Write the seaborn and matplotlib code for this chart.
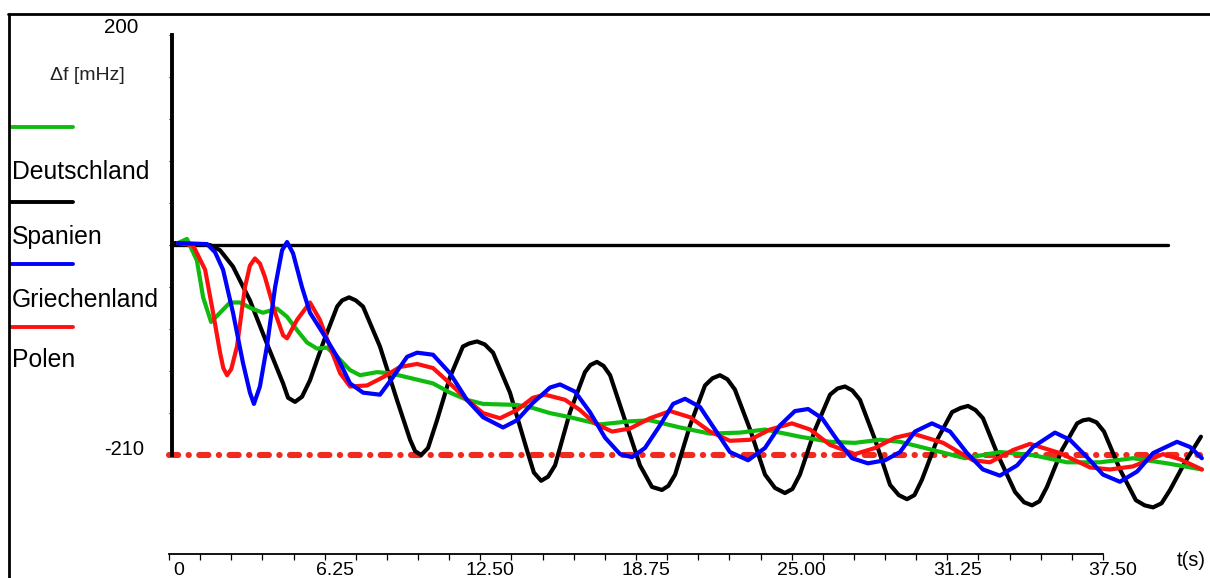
import numpy as np
import pandas as pd
import matplotlib
matplotlib.use("Agg")
import matplotlib.pyplot as plt
from matplotlib.lines import Line2D
from matplotlib.transforms import ScaledTranslation
import seaborn as sns

# frequency deviation [mHz] over time [s]
t_es = [0.24, 1.65, 2.05, 2.57, 3.25, 3.93, 4.58, 4.78, 5.06, 5.34, 5.66, 6.18, 6.75, 6.95,
        7.23, 7.50, 7.79, 8.47, 9.15, 9.68, 9.88, 10.12, 10.40, 10.76, 11.28, 11.80, 12.05,
        12.37, 12.68, 13.01, 13.69, 14.37, 14.65, 14.94, 15.22, 15.50, 16.10, 16.70, 16.92,
        17.18, 17.45, 17.71, 18.31, 18.91, 19.39, 19.79, 20.05, 20.32, 20.92, 21.52, 21.82,
        22.12, 22.42, 22.72, 23.33, 23.93, 24.33, 24.73, 25.03, 25.33, 25.94, 26.54, 26.84,
        27.14, 27.44, 27.74, 28.35, 28.95, 29.30, 29.63, 29.93, 30.23, 30.84, 31.44, 31.78,
        32.08, 32.38, 32.68, 33.28, 33.97, 34.33, 34.65, 34.95, 35.25, 35.85, 36.46, 36.70,
        36.94, 37.24, 37.54, 38.18, 38.82, 39.17, 39.51, 39.85, 40.19, 40.79, 41.43]
v_es = [-3, -5, -10, -26, -59, -101, -140, -154, -158, -153, -137, -101, -65, -59,
        -56, -59, -65, -104, -156, -195, -206, -210, -203, -176, -134, -104, -101,
        -99, -102, -110, -149, -205, -227, -235, -231, -220, -168, -129, -122,
        -119, -123, -132, -176, -220, -241, -244, -240, -229, -181, -142, -135,
        -132, -136, -146, -185, -229, -242, -247, -243, -229, -185, -151, -145,
        -143, -147, -156, -195, -239, -249, -253, -249, -234, -195, -168, -164,
        -162, -166, -174, -210, -246, -256, -259, -255, -241, -205, -179, -176,
        -175, -178, -187, -224, -254, -259, -261, -257, -244, -217, -192]

t_gr = [0.36, 1.53, 1.85, 2.17, 2.57, 2.97, 3.25, 3.41, 3.65, 3.93, 4.26, 4.54, 4.74, 4.98,
        5.34, 5.66, 6.18, 6.75, 7.27, 7.79, 8.47, 8.99, 9.56, 9.96, 10.60, 11.28, 11.96,
        12.61, 13.41, 13.97, 14.61, 15.30, 15.70, 16.30, 16.90, 17.51, 18.11, 18.59, 19.11,
        19.71, 20.24, 20.72, 21.32, 21.92, 22.52, 23.25, 23.93, 24.53, 25.13, 25.66, 26.22,
        26.82, 27.42, 28.06, 28.75, 29.35, 29.95, 30.63, 31.36, 32.04, 32.68, 33.36, 34.05,
        34.69, 35.57, 36.17, 36.86, 37.50, 38.18, 38.87, 39.51, 40.47, 40.99, 41.47]
v_gr = [-3, -4, -12, -29, -71, -120, -149, -160, -143, -104, -46, -10, -2, -13,
        -46, -71, -91, -114, -140, -149, -151, -134, -114, -110, -112, -130, -156,
        -173, -183, -176, -159, -144, -141, -148, -168, -193, -209, -212, -203,
        -181, -160, -155, -163, -185, -207, -215, -203, -181, -167, -165, -174,
        -195, -213, -218, -215, -207, -187, -179, -187, -208, -224, -230, -220,
        -202, -188, -195, -212, -229, -236, -226, -208, -197, -202, -213]

t_pl = [0.36, 0.96, 1.45, 1.77, 2.05, 2.18, 2.33, 2.50, 2.73, 3.05, 3.25, 3.45, 3.65, 3.85,
        4.26, 4.58, 4.74, 5.14, 5.66, 6.06, 6.46, 6.87, 7.27, 7.95, 8.59, 9.27, 9.96, 10.60,
        11.28, 11.96, 12.61, 13.29, 13.97, 14.61, 15.10, 15.90, 16.50, 17.10, 17.79, 18.51,
        19.31, 20.12, 20.92, 21.72, 22.52, 23.33, 24.13, 25.01, 25.74, 26.54, 27.54, 28.35,
        29.15, 29.87, 31.08, 32.28, 32.96, 33.89, 34.57, 35.77, 36.98, 37.78, 38.70, 39.91,
        40.59, 41.47]
v_pl = [-3, -5, -29, -71, -110, -125, -132, -126, -104, -46, -25, -18, -23, -36,
        -71, -93, -96, -78, -61, -78, -104, -130, -143, -142, -134, -124, -121, -125,
        -140, -156, -169, -174, -166, -154, -151, -156, -166, -179, -187, -184,
        -174, -167, -173, -187, -196, -195, -185, -179, -185, -200, -209, -203,
        -193, -189, -198, -215, -217, -205, -199, -208, -222, -224, -221, -209,
        -214, -224]

t_de = [0.36, 0.72, 1.12, 1.37, 1.69, 2.05, 2.45, 2.85, 3.33, 3.77, 4.34, 4.74, 5.14, 5.54,
        5.94, 6.34, 6.75, 7.27, 7.67, 8.35, 8.87, 9.56, 10.60, 11.28, 11.96, 12.61, 13.97,
        14.61, 15.30, 16.10, 17.30, 18.51, 19.31, 20.52, 21.72, 22.93, 23.93, 25.33, 26.54,
        27.54, 28.55, 29.35, 30.67, 31.96, 33.36, 34.69, 36.05, 37.38, 38.70, 40.07, 41.47]
v_de = [-3, 1, -20, -56, -80, -71, -61, -61, -67, -71, -67, -75, -88, -100,
        -106, -105, -114, -127, -132, -129, -130, -134, -140, -149, -156, -160, -161,
        -164, -169, -173, -180, -177, -176, -183, -189, -188, -185, -192, -197,
        -198, -195, -197, -205, -213, -207, -210, -217, -217, -213, -218, -224]

base_level = -5
base_span = (0.1, 40.1)
limit_level = -210
limit_span = (0.0, 41.4)

countries = ["Spanien", "Deutschland", "Polen", "Griechenland"]
colors = {"Deutschland": "#10bb10", "Spanien": "black",
          "Griechenland": "#0000ff", "Polen": "#ff1010"}

x_major = np.arange(0, 37.51, 6.25)
x_labels = ["0", "6.25", "12.50", "18.75", "25.00", "31.25", "37.50"]
x_minor = np.arange(0, 37.51, 1.25)
y_ticks = np.arange(-210, 201, 41)

df = pd.concat([
    pd.DataFrame({"t": t_es, "df": v_es, "land": "Spanien"}),
    pd.DataFrame({"t": t_de, "df": v_de, "land": "Deutschland"}),
    pd.DataFrame({"t": t_pl, "df": v_pl, "land": "Polen"}),
    pd.DataFrame({"t": t_gr, "df": v_gr, "land": "Griechenland"}),
])

sns.set_style("white")
plt.rcParams["font.family"] = ["Liberation Sans", "DejaVu Sans"]
plt.rcParams["text.color"] = "black"
plt.rcParams["xtick.color"] = "black"
plt.rcParams["ytick.color"] = "black"
plt.rcParams["axes.edgecolor"] = "black"

W, H = 1210, 578
fig = plt.figure(figsize=(W / 100, H / 100), dpi=100)
ax = fig.add_axes([0, 24 / H, 1, 554 / H])
ax.patch.set_visible(False)

# reference lines
ax.plot(base_span, [base_level, base_level], color="black", lw=2.4, zorder=1)
ax.plot(limit_span, [limit_level, limit_level], color="#f02a1e", lw=4.4,
        dashes=(1.5, 1.7, 0.05, 1.7), dash_capstyle="round", zorder=1)

sns.lineplot(data=df, x="t", y="df", hue="land", hue_order=countries,
             palette=colors, estimator=None, sort=False, linewidth=3.0,
             legend=False, ax=ax, zorder=2)
for ln in ax.get_lines():
    ln.set_solid_joinstyle("round")

ax.set_xlim(-169 / 24.907, (W - 169) / 24.907)
ax.set_ylim(-306.5, 234.24)
ax.set_xlabel("")
ax.set_ylabel("")

for s in ["top", "right"]:
    ax.spines[s].set_visible(False)
ax.spines["left"].set_position(("data", 0.12))
ax.spines["left"].set_bounds(limit_level, 200)
ax.spines["left"].set_linewidth(2.8)
ax.spines["bottom"].set_bounds(0, 37.5)
ax.spines["bottom"].set_linewidth(1.3)

ax.set_xticks(x_major)
ax.set_xticklabels(x_labels, fontsize=14)
ax.set_xticks(x_minor, minor=True)
ax.tick_params(axis="x", which="both", direction="out", length=4, width=0.9,
               pad=2, bottom=True, colors="black")
for lab in ax.get_xticklabels():
    lab.set_transform(lab.get_transform() + ScaledTranslation(0.1, 0, fig.dpi_scale_trans))

ax.set_yticks(y_ticks)
ax.set_yticklabels([])
ax.tick_params(axis="y", direction="out", length=2.2, width=0.8, left=True, colors="black")

ax.annotate("200", xy=(0.12, 200), xytext=(-34, 8), textcoords="offset pixels",
            ha="right", va="center", fontsize=14.8)
ax.annotate("-210", xy=(0.12, limit_level), xytext=(-28, 6), textcoords="offset pixels",
            ha="right", va="center", fontsize=14.5)

fig.text(50 / W, 1 - 75 / H, "Δf [mHz]", fontsize=14, va="center", color="#222222")
fig.text(1177 / W, 1 - 560 / H, "t(s)", fontsize=14.5, va="center")

# legend block on the left
key_y = [126.7, 201.7, 264, 327.3]
key_c = [colors["Deutschland"], colors["Spanien"], colors["Griechenland"], colors["Polen"]]
for y, c in zip(key_y, key_c):
    fig.add_artist(Line2D([11 / W, 73 / W], [1 - y / H] * 2, color=c, lw=2.8))
for y, name in zip([171.7, 237, 300, 360], ["Deutschland", "Spanien", "Griechenland", "Polen"]):
    fig.text(12 / W, 1 - y / H, name, fontsize=17.8, va="center")

# outer frame
fig.add_artist(Line2D([8 / W, 1], [1 - 14 / H] * 2, color="black", lw=2))
fig.add_artist(Line2D([9 / W, 9 / W], [1 - 14 / H, 0], color="black", lw=2))

fig.savefig("out.png", dpi=100)
